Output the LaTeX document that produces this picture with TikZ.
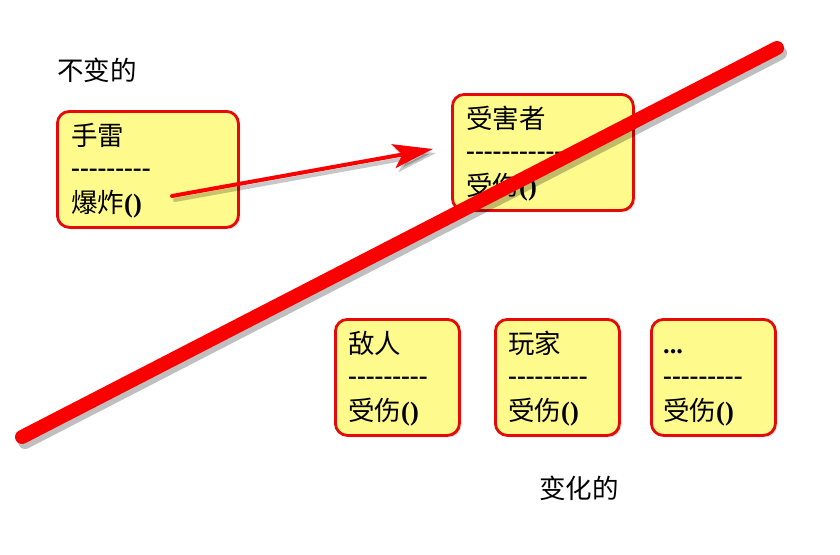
\documentclass[tikz,border=0pt]{standalone}
\usepackage{fontspec}
\setmainfont{Liberation Serif}
\newfontfamily\cjk{Noto Sans CJK SC}
\usetikzlibrary{arrows.meta,shadows}
\definecolor{boxfill}{RGB}{255,250,140}
\definecolor{boxline}{RGB}{228,10,10}
\definecolor{bigred}{RGB}{250,0,0}
\newcommand{\hy}{-\kern0pt}
\newcommand{\nine}{\hy\hy\hy\hy\hy\hy\hy\hy\hy}
\begin{document}
\begin{tikzpicture}[x=1pt,y=-1pt,
  card/.style={draw=boxline,line width=2.8pt,fill=boxfill,rounded corners=12pt,
    anchor=north west,inner sep=0pt,
    drop shadow={shadow xshift=2pt,shadow yshift=-2pt,opacity=0.25}},
  bigcard/.style={card,minimum width=181pt,minimum height=116pt},
  smallcard/.style={card,minimum width=124pt,minimum height=116pt},
  txt/.style={anchor=base west,inner sep=0pt,font=\fontsize{26.5}{30}\selectfont\cjk},
  dashtxt/.style={anchor=base west,inner sep=0pt,font=\fontsize{26.5}{30}\selectfont\bfseries},
  lbl/.style={anchor=base west,inner sep=0pt,font=\fontsize{26.5}{30}\selectfont\cjk}
]
\useasboundingbox (0,0) rectangle (840,554);

\node[lbl] (top) at (57,80) {不变的};
\node[lbl] (bottom) at (539,498) {变化的};

% grenade
\node[bigcard] (g) at (56,110) {};
\node[txt] (g1) at ([shift={(15,35)}]g.north west) {手雷};
\node[dashtxt] (g2) at ([shift={(15,66)}]g.north west) {\nine};
\node[txt] (g3) at ([shift={(15,102)}]g.north west) {爆炸\textbf{\rmfamily()}};

% victim
\node[bigcard] (v) at (451,93) {};
\node[txt] (v1) at ([shift={(15,35)}]v.north west) {受害者};
\node[dashtxt] (v2) at ([shift={(15,66)}]v.north west) {\nine\hy\hy\hy};
\node[txt] (v3) at ([shift={(15,102)}]v.north west) {受伤\textbf{\rmfamily()}};

% enemy
\node[smallcard] (e) at (334,318) {};
\node[txt] (e1) at ([shift={(14,35)}]e.north west) {敌人};
\node[dashtxt] (e2) at ([shift={(14,66)}]e.north west) {\nine};
\node[txt] (e3) at ([shift={(14,102)}]e.north west) {受伤\textbf{\rmfamily()}};

% player
\node[smallcard] (p) at (494,318) {};
\node[txt] (p1) at ([shift={(14,35)}]p.north west) {玩家};
\node[dashtxt] (p2) at ([shift={(14,66)}]p.north west) {\nine};
\node[txt] (p3) at ([shift={(14,102)}]p.north west) {受伤\textbf{\rmfamily()}};

% others
\node[smallcard] (o) at (650,318) {};
\node[dashtxt] (o1) at ([shift={(13,35)}]o.north west) {...};
\node[dashtxt] (o2) at ([shift={(13,66)}]o.north west) {\nine};
\node[txt] (o3) at ([shift={(13,102)}]o.north west) {受伤\textbf{\rmfamily()}};

% arrow
\coordinate (as) at (172,196);
\coordinate (ae) at (433,149);
\draw[black,opacity=0.22,line width=4pt,line cap=round,
  -{Stealth[length=40pt,width=24pt,inset=9pt]}] ([shift={(3,4)}]as) -- ([shift={(3,4)}]ae);
\draw[bigred,line width=4pt,line cap=round,
  -{Stealth[length=40pt,width=24pt,inset=9pt]}] (as) -- (ae);

% big strike line
\coordinate (ls) at (22,437);
\coordinate (le) at (777,48);
\draw[black,opacity=0.25,line width=14pt,line cap=round] ([shift={(3,5)}]ls) -- ([shift={(3,5)}]le);
\draw[bigred,line width=14pt,line cap=round] (ls) -- (le);
\end{tikzpicture}
\end{document}
